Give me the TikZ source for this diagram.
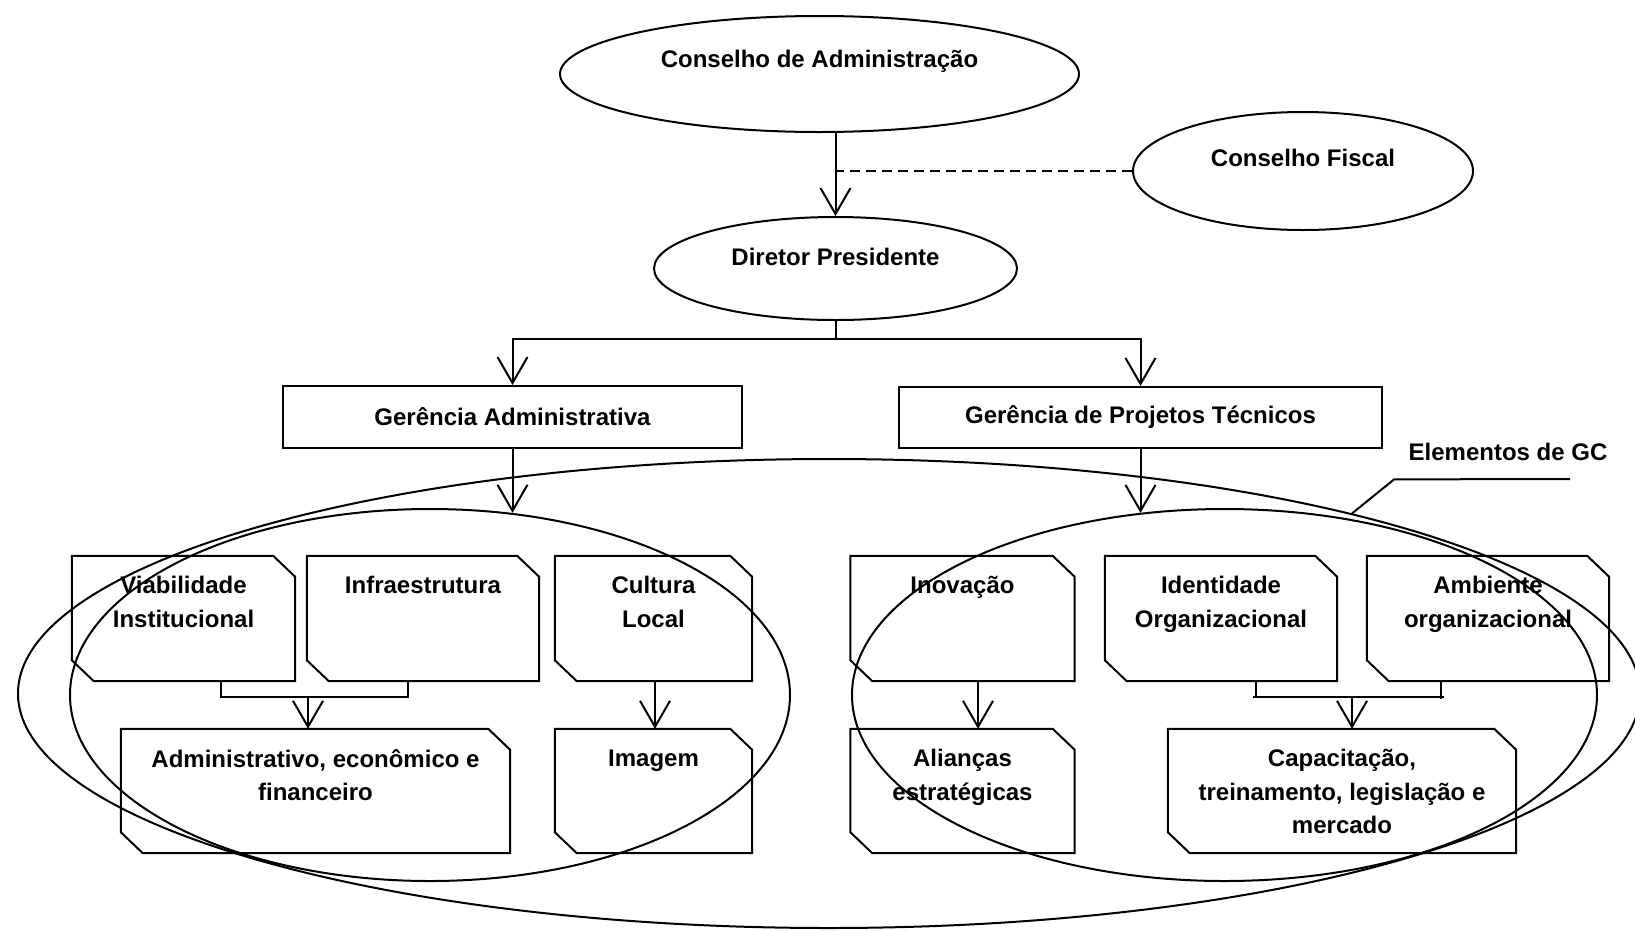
\documentclass[tikz,border=0pt]{standalone}
\usepackage{fontspec}
\setmainfont{Liberation Sans}
\usetikzlibrary{shapes.geometric,arrows.meta}
\newcommand{\cardnode}[5]{%
  \node[cardbase,minimum width=#3,minimum height=#4] (#1) at (#2) {};
  \draw[ln,fill=white] (#1.north west) -- ([xshift=-22pt]#1.north east)
    -- ([yshift=-21pt]#1.north east) -- (#1.south east)
    -- ([xshift=22pt]#1.south west) -- ([yshift=21pt]#1.south west) -- cycle;
  \node[cardtext] (#1-t) at (#1.north) {#5};}
\begin{document}
\begin{tikzpicture}[x=1pt,y=-1pt,
  every node/.style={font=\fontsize{24}{33.5}\selectfont\bfseries},
  ln/.style={line width=2pt},
  arr/.style={ln,-{Straight Barb[length=26pt,width=30pt]}},
  oval/.style={ellipse,draw,ln,fill=white,inner sep=0pt},
  grp/.style={ellipse,draw,ln,inner sep=0pt},
  box/.style={rectangle,draw,ln,fill=white,inner sep=0pt},
  cardbase/.style={rectangle,inner sep=0pt},
  cardtext/.style={anchor=north,inner sep=0pt,yshift=-20.5pt,align=center},
  dashline/.style={ln,dash pattern=on 10pt off 6pt},
]
\useasboundingbox (0,0) rectangle (1635,930);

% top level
\node[oval,minimum width=519pt,minimum height=116pt,
  label={[yshift=13pt]center:Conselho de Administração}] (ca) at (819.5,74) {};
\node[oval,minimum width=340pt,minimum height=118pt,
  label={[yshift=13.5pt]center:Conselho Fiscal}] (cf) at (1303,171) {};
\node[oval,minimum width=363pt,minimum height=103pt,
  label={[yshift=12pt]center:Diretor Presidente}] (dp) at (835.5,268.5) {};

\draw[arr] (ca.south -| dp.north) -- (dp.north);
\draw[dashline] (cf.west) -- (cf.west -| dp.north);

\node[box,minimum width=459pt,minimum height=62pt] (ga) at (512.5,417) {Gerência Administrativa};
\node[box,minimum width=483pt,minimum height=61pt] (gpt) at (1140.5,417.5) {Gerência de Projetos Técnicos};

\draw[ln] (dp.south) -- ++(0,18) coordinate (split);
\draw[arr] (split) -| (ga.north);
\draw[arr] (split) -| (gpt.north);

% cards, top row
\cardnode{viab}{183.5,618.5}{223pt}{125pt}{Viabilidade\\Institucional}
\cardnode{infra}{423,618.5}{232pt}{125pt}{Infraestrutura}
\cardnode{cult}{653.5,618.5}{197pt}{125pt}{Cultura\\Local}
\cardnode{inov}{962.5,618.5}{224pt}{125pt}{Inovação}
\cardnode{ident}{1221,618.5}{232pt}{125pt}{Identidade\\Organizacional}
\cardnode{amb}{1488,618.5}{242pt}{125pt}{Ambiente\\organizacional}

% cards, bottom row
\cardnode{adm}{315.5,791}{389pt}{124pt}{Administrativo, econômico e\\financeiro}
\cardnode{img}{653.5,791}{197pt}{124pt}{Imagem}
\cardnode{ali}{962.5,791}{224pt}{124pt}{Alianças\\estratégicas}
\cardnode{cap}{1342,791}{348pt}{124pt}{Capacitação,\\treinamento, legislação e\\mercado}

% connectors inside groups
\draw[ln] ([xshift=37.5pt]viab.south) -- ++(0,16) coordinate (j1) -| ([xshift=-15pt]infra.south);
\coordinate (admin) at ([xshift=-7.5pt]adm.north);
\draw[arr] (admin |- j1) -- (admin);
\draw[arr] ([xshift=1.5pt]cult.south) -- ([xshift=1.5pt]img.north);
\draw[arr] ([xshift=15.5pt]inov.south) -- ([xshift=15.5pt]ali.north);
\draw[ln] ([xshift=35pt]ident.south) -- ++(0,16) coordinate (j2);
\draw[ln] ([xshift=-47pt]amb.south) -- ++(0,18) coordinate (j3);
\coordinate (j2x) at ([xshift=-3pt]j2);
\coordinate (j3x) at ([xshift=3pt]j3);
\draw[ln] (j2x) -- (j3x |- j2x);
\coordinate (capin) at ([xshift=10pt]cap.north);
\draw[arr] (capin |- j2) -- (capin);

% group ellipses
\node[grp,minimum width=1622pt,minimum height=469pt] (outer) at (829,693.5) {};
\node[grp,minimum width=720pt,minimum height=372pt] (li) at (430,695) {};
\node[grp,minimum width=745pt,minimum height=372pt] (ri) at (1224.5,695) {};

\draw[arr] (ga.south) -- (ga.south |- li.66);
\draw[arr] (gpt.south) -- (gpt.south |- ri.115);

% callout
\node (gc) at (1508,452) {Elementos de GC};
\coordinate (gcend) at (1570,479);
\draw[ln] (outer.19) -- ++(42,-34) -- (gcend);
\end{tikzpicture}
\end{document}
